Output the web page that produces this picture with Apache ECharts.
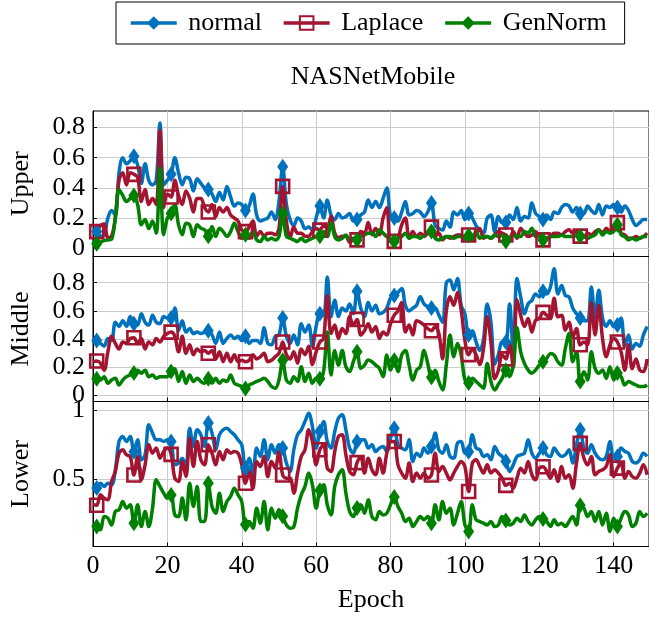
<!DOCTYPE html>
<html><head><meta charset="utf-8">
<script src="https://cdn.jsdelivr.net/npm/echarts@6/dist/echarts.min.js"></script>
<style>html,body{margin:0;padding:0;background:#fff}#c{width:649px;height:619px}</style>
</head><body><div id="c"></div>
<script>
const epochs = [];
for (let i = 0; i < 150; i++) epochs.push(i);
const xTicks = [0, 20, 40, 60, 80, 100, 120, 140];
const upperTicks = [0, 0.2, 0.4, 0.6, 0.8];
const middleTicks = [0, 0.2, 0.4, 0.6, 0.8];
const lowerTicks = [0.5, 1];
const seriesNames = ['normal', 'Laplace', 'GenNorm'];
const panelNames = ['Upper', 'Middle', 'Lower'];

const upperNormal = [
0.12,0.11,0.08,0.09,0.2,0.25,0.22,0.5,0.6,0.56,
0.58,0.61,0.55,0.43,0.56,0.45,0.42,0.45,0.83,0.42,
0.45,0.49,0.6,0.5,0.42,0.47,0.46,0.38,0.46,0.43,
0.4,0.39,0.36,0.31,0.37,0.32,0.41,0.34,0.28,0.3,
0.29,0.25,0.28,0.36,0.22,0.18,0.19,0.2,0.24,0.19,
0.31,0.54,0.29,0.19,0.15,0.2,0.18,0.13,0.14,0.12,
0.2,0.28,0.2,0.32,0.22,0.19,0.23,0.2,0.21,0.23,
0.18,0.19,0.22,0.24,0.32,0.27,0.31,0.27,0.33,0.4,
0.21,0.2,0.18,0.24,0.31,0.22,0.23,0.25,0.24,0.21,
0.24,0.3,0.15,0.13,0.12,0.18,0.14,0.24,0.22,0.25,
0.19,0.23,0.2,0.15,0.12,0.1,0.2,0.22,0.11,0.21,
0.17,0.17,0.22,0.19,0.27,0.18,0.21,0.2,0.3,0.23,
0.21,0.19,0.22,0.19,0.24,0.23,0.27,0.29,0.28,0.24,
0.27,0.23,0.23,0.28,0.25,0.23,0.29,0.22,0.28,0.27,
0.29,0.27,0.24,0.28,0.25,0.19,0.15,0.17,0.19,0.19];
const upperLaplace = [
0.1,0.11,0.15,0.16,0.07,0.08,0.2,0.45,0.5,0.42,
0.5,0.49,0.47,0.31,0.39,0.29,0.33,0.29,0.78,0.27,
0.36,0.34,0.45,0.35,0.29,0.38,0.33,0.24,0.33,0.33,
0.27,0.24,0.29,0.21,0.27,0.24,0.27,0.22,0.2,0.18,
0.12,0.11,0.14,0.18,0.08,0.11,0.08,0.1,0.1,0.09,
0.13,0.41,0.18,0.07,0.14,0.1,0.1,0.08,0.08,0.11,
0.13,0.12,0.15,0.13,0.21,0.1,0.07,0.08,0.08,0.04,
0.055,0.055,0.11,0.1,0.17,0.09,0.13,0.09,0.2,0.27,
0.044,0.045,0.066,0.155,0.2,0.066,0.11,0.077,0.1,0.077,
0.1,0.14,0.077,0.1,0.055,0.077,0.066,0.077,0.088,0.088,
0.066,0.088,0.055,0.1,0.13,0.066,0.077,0.066,0.088,0.11,
0.1,0.088,0.066,0.11,0.066,0.133,0.1,0.077,0.088,0.11,
0.077,0.055,0.066,0.077,0.1,0.1,0.088,0.11,0.122,0.1,
0.11,0.08,0.077,0.1,0.088,0.11,0.122,0.1,0.133,0.11,
0.144,0.17,0.1,0.088,0.066,0.066,0.077,0.066,0.077,0.1];
const upperGenNorm = [
0.05,0.03,0.04,0.05,0.055,0.06,0.2,0.39,0.35,0.31,
0.33,0.35,0.29,0.155,0.19,0.13,0.18,0.1,0.53,0.09,
0.2,0.23,0.29,0.155,0.09,0.166,0.155,0.077,0.155,0.133,
0.122,0.08,0.144,0.077,0.133,0.11,0.077,0.11,0.166,0.11,
0.066,0.09,0.066,0.11,0.055,0.044,0.077,0.055,0.066,0.055,
0.077,0.23,0.077,0.066,0.055,0.044,0.066,0.044,0.055,0.066,
0.077,0.08,0.11,0.077,0.17,0.077,0.055,0.066,0.088,0.055,
0.066,0.055,0.077,0.088,0.1,0.1,0.077,0.122,0.1,0.077,
0.066,0.045,0.066,0.077,0.1,0.066,0.077,0.077,0.066,0.088,
0.1,0.11,0.066,0.055,0.066,0.077,0.077,0.066,0.077,0.077,
0.055,0.085,0.055,0.11,0.066,0.077,0.077,0.066,0.088,0.077,
0.088,0.045,0.066,0.088,0.077,0.077,0.11,0.1,0.133,0.077,
0.088,0.055,0.066,0.077,0.077,0.077,0.088,0.077,0.077,0.077,
0.088,0.08,0.077,0.066,0.077,0.088,0.122,0.088,0.11,0.1,
0.11,0.155,0.088,0.077,0.055,0.066,0.055,0.066,0.077,0.077];

const middleNormal = [
0.38,0.39,0.37,0.35,0.405,0.39,0.52,0.49,0.53,0.49,
0.56,0.51,0.5,0.58,0.52,0.5,0.57,0.52,0.51,0.56,
0.55,0.55,0.62,0.46,0.53,0.45,0.475,0.44,0.45,0.44,
0.45,0.46,0.43,0.37,0.45,0.37,0.405,0.43,0.405,0.42,
0.39,0.42,0.37,0.39,0.39,0.37,0.48,0.37,0.36,0.42,
0.43,0.55,0.42,0.37,0.43,0.36,0.51,0.45,0.5,0.35,
0.49,0.58,0.57,0.84,0.56,0.675,0.56,0.62,0.6,0.65,
0.58,0.74,0.62,0.56,0.66,0.6,0.64,0.58,0.59,0.62,
0.69,0.71,0.73,0.76,0.64,0.6,0.62,0.64,0.7,0.65,
0.63,0.62,0.62,0.57,0.52,0.8,0.82,0.75,0.83,0.64,
0.58,0.43,0.46,0.38,0.32,0.4,0.65,0.52,0.22,0.29,
0.38,0.38,0.65,0.31,0.83,0.7,0.58,0.65,0.675,0.72,
0.7,0.74,0.72,0.77,0.9,0.72,0.78,0.71,0.7,0.62,
0.58,0.55,0.53,0.53,0.77,0.55,0.746,0.55,0.49,0.53,
0.49,0.5,0.55,0.35,0.43,0.33,0.37,0.35,0.43,0.49];
const middleLaplace = [
0.24,0.245,0.23,0.18,0.31,0.42,0.37,0.33,0.38,0.37,
0.405,0.41,0.37,0.405,0.33,0.38,0.36,0.405,0.38,0.42,
0.44,0.45,0.42,0.31,0.42,0.3,0.36,0.29,0.33,0.31,
0.32,0.3,0.32,0.26,0.31,0.24,0.3,0.24,0.29,0.24,
0.25,0.24,0.25,0.29,0.26,0.275,0.3,0.24,0.25,0.275,
0.3,0.38,0.29,0.26,0.31,0.23,0.33,0.29,0.35,0.22,
0.31,0.38,0.405,0.71,0.44,0.5,0.405,0.475,0.44,0.56,
0.5,0.54,0.43,0.46,0.51,0.45,0.49,0.405,0.45,0.43,
0.51,0.57,0.6,0.66,0.45,0.5,0.43,0.53,0.52,0.5,
0.475,0.46,0.49,0.44,0.26,0.6,0.7,0.64,0.73,0.605,
0.39,0.29,0.33,0.29,0.22,0.33,0.56,0.38,0.12,0.18,
0.29,0.26,0.37,0.2,0.68,0.57,0.49,0.546,0.45,0.534,
0.546,0.59,0.57,0.546,0.69,0.558,0.57,0.464,0.52,0.416,
0.475,0.36,0.38,0.36,0.66,0.43,0.64,0.405,0.275,0.36,
0.405,0.38,0.31,0.18,0.36,0.19,0.26,0.18,0.17,0.26];
const middleGenNorm = [
0.134,0.12,0.11,0.134,0.087,0.11,0.122,0.075,0.11,0.134,
0.146,0.16,0.18,0.158,0.18,0.134,0.146,0.122,0.134,0.134,
0.134,0.17,0.19,0.1,0.17,0.087,0.146,0.1,0.122,0.1,
0.087,0.12,0.087,0.122,0.087,0.11,0.1,0.146,0.087,0.075,
0.064,0.05,0.075,0.087,0.1,0.11,0.122,0.1,0.064,0.052,
0.11,0.25,0.11,0.087,0.134,0.1,0.205,0.1,0.158,0.087,
0.122,0.12,0.17,0.45,0.146,0.32,0.216,0.32,0.205,0.17,
0.24,0.31,0.193,0.216,0.252,0.24,0.216,0.193,0.134,0.287,
0.181,0.25,0.17,0.287,0.32,0.216,0.11,0.18,0.205,0.32,
0.228,0.13,0.18,0.1,0.04,0.216,0.43,0.275,0.37,0.287,
0.111,0.09,0.122,0.1,0.075,0.052,0.228,0.1,0.04,0.08,
0.122,0.18,0.134,0.216,0.48,0.31,0.228,0.181,0.158,0.181,
0.216,0.24,0.264,0.299,0.287,0.24,0.216,0.334,0.44,0.24,
0.31,0.1,0.169,0.111,0.31,0.193,0.158,0.181,0.122,0.205,
0.111,0.16,0.134,0.075,0.099,0.087,0.075,0.064,0.064,0.075];

const lowerNormal = [
0.42,0.435,0.47,0.447,0.47,0.459,0.568,0.774,0.811,0.774,
0.811,0.7,0.786,0.641,0.677,0.896,0.835,0.786,0.786,0.774,
0.786,0.774,0.604,0.617,0.653,0.592,0.871,0.738,0.859,0.823,
0.738,0.908,0.835,0.714,0.823,0.859,0.871,0.847,0.823,0.786,
0.75,0.58,0.653,0.532,0.726,0.665,0.786,0.641,0.75,0.689,
0.75,0.726,0.617,0.556,0.714,0.823,0.859,0.92,0.98,0.883,
0.726,0.847,0.92,0.774,0.726,0.847,0.944,0.968,0.859,0.726,
0.689,0.774,0.786,0.786,0.726,0.75,0.701,0.726,0.738,0.701,
0.799,0.871,0.75,0.726,0.714,0.786,0.629,0.689,0.665,0.726,
0.689,0.738,0.835,0.714,0.689,0.75,0.665,0.653,0.762,0.774,
0.689,0.7,0.823,0.726,0.714,0.665,0.677,0.641,0.738,0.689,
0.665,0.63,0.556,0.604,0.665,0.677,0.689,0.786,0.689,0.653,
0.689,0.726,0.677,0.665,0.726,0.689,0.665,0.677,0.714,0.617,
0.75,0.86,0.726,0.689,0.75,0.689,0.653,0.641,0.665,0.774,
0.653,0.665,0.726,0.701,0.689,0.629,0.617,0.641,0.689,0.665];
const lowerLaplace = [
0.313,0.31,0.386,0.362,0.35,0.483,0.556,0.689,0.714,0.677,
0.665,0.53,0.665,0.495,0.604,0.75,0.689,0.726,0.653,0.701,
0.726,0.68,0.507,0.483,0.629,0.519,0.799,0.592,0.774,0.641,
0.604,0.75,0.689,0.604,0.701,0.641,0.714,0.689,0.701,0.689,
0.604,0.47,0.556,0.434,0.629,0.592,0.665,0.519,0.629,0.58,
0.701,0.53,0.507,0.507,0.398,0.544,0.665,0.714,0.859,0.774,
0.604,0.714,0.75,0.58,0.556,0.701,0.811,0.823,0.677,0.556,
0.532,0.62,0.665,0.544,0.653,0.568,0.532,0.653,0.544,0.689,
0.774,0.774,0.604,0.544,0.507,0.617,0.483,0.544,0.507,0.544,
0.507,0.53,0.689,0.556,0.592,0.544,0.495,0.544,0.592,0.629,
0.592,0.41,0.617,0.641,0.592,0.544,0.604,0.544,0.568,0.544,
0.507,0.455,0.471,0.434,0.507,0.58,0.544,0.629,0.532,0.495,
0.58,0.59,0.556,0.507,0.568,0.483,0.592,0.507,0.532,0.434,
0.617,0.76,0.653,0.604,0.665,0.532,0.556,0.568,0.592,0.677,
0.519,0.58,0.617,0.507,0.556,0.519,0.507,0.544,0.604,0.532];
const lowerGenNorm = [
0.167,0.155,0.131,0.228,0.216,0.167,0.265,0.277,0.337,0.289,
0.313,0.18,0.313,0.155,0.265,0.155,0.289,0.495,0.447,0.398,
0.362,0.385,0.24,0.228,0.362,0.204,0.471,0.301,0.447,0.192,
0.192,0.47,0.301,0.252,0.398,0.265,0.337,0.374,0.434,0.386,
0.337,0.17,0.192,0.143,0.289,0.18,0.337,0.131,0.289,0.216,
0.277,0.23,0.167,0.143,0.155,0.289,0.386,0.447,0.544,0.459,
0.289,0.42,0.459,0.313,0.24,0.447,0.532,0.568,0.398,0.265,
0.228,0.29,0.313,0.252,0.35,0.228,0.204,0.265,0.24,0.252,
0.313,0.37,0.301,0.252,0.192,0.216,0.155,0.192,0.228,0.204,
0.228,0.18,0.313,0.204,0.337,0.252,0.289,0.167,0.252,0.337,
0.167,0.12,0.313,0.204,0.192,0.18,0.167,0.192,0.155,0.167,
0.228,0.2,0.167,0.18,0.216,0.192,0.24,0.192,0.167,0.204,
0.228,0.21,0.192,0.155,0.204,0.167,0.18,0.155,0.192,0.228,
0.167,0.31,0.289,0.228,0.265,0.192,0.265,0.167,0.252,0.119,
0.216,0.155,0.216,0.265,0.24,0.155,0.18,0.265,0.228,0.252];

const FONT = 'Liberation Serif';
const FS = 26;
const COLORS = ['#0072BD', '#A2142F', '#008000'];
const panels = [
  {name: panelNames[0], ticks: upperTicks, min: -0.055, max: 0.91, top: 111, height: 145.5, data: [upperNormal, upperLaplace, upperGenNorm]},
  {name: panelNames[1], ticks: middleTicks, min: -0.042, max: 0.986, top: 256.5, height: 145, data: [middleNormal, middleLaplace, middleGenNorm]},
  {name: panelNames[2], ticks: lowerTicks, min: 0.01, max: 1.065, top: 401.5, height: 145, data: [lowerNormal, lowerLaplace, lowerGenNorm]}
];

const grids = [], xAxes = [], yAxes = [], series = [];
panels.forEach((p, gi) => {
  grids.push({left: 92, right: -3, top: p.top, height: p.height, show: true, borderColor: '#000', borderWidth: 1, backgroundColor: 'transparent'});
  xAxes.push({
    type: 'value', gridIndex: gi, min: 0, max: 149.5,
    axisLine: {show: true, onZero: false, lineStyle: {color: '#000', width: 1}},
    axisTick: {show: true, inside: true, length: 4, customValues: xTicks, lineStyle: {color: '#000'}},
    axisLabel: {show: gi === 2, customValues: xTicks, fontFamily: FONT, fontSize: FS, color: '#000', margin: 7},
    splitLine: {show: true, lineStyle: {color: '#cccccc', width: 1}},
    name: gi === 2 ? 'Epoch' : '', nameLocation: 'middle', nameGap: 41,
    nameTextStyle: {fontFamily: FONT, fontSize: FS, color: '#000'}
  });
  yAxes.push({
    type: 'value', gridIndex: gi, min: p.min, max: p.max, splitNumber: gi === 2 ? 2 : 5,
    axisLine: {show: true, onZero: false, lineStyle: {color: '#000', width: 1}},
    axisTick: {show: true, inside: true, length: 4, customValues: p.ticks, lineStyle: {color: '#000'}},
    axisLabel: {customValues: p.ticks, fontFamily: FONT, fontSize: FS, color: '#000', margin: 8},
    splitLine: {show: true, lineStyle: {color: '#cccccc', width: 1}},
    name: p.name, nameLocation: 'middle', nameGap: 59, nameRotate: 90,
    nameTextStyle: {fontFamily: FONT, fontSize: FS, color: '#000'}
  });
  p.data.forEach((vals, si) => {
    const pts = vals.map((v, i) => (i % 10 === 1) ? {value: [epochs[i], v]} : {value: [epochs[i], v], symbol: 'none'});
    const s = {
      name: seriesNames[si], type: 'line', xAxisIndex: gi, yAxisIndex: gi,
      data: pts, smooth: 0.35, showAllSymbol: true, animation: false,
      color: COLORS[si],
      lineStyle: {color: COLORS[si], width: 3.5},
      emphasis: {disabled: true}
    };
    if (si === 1) {
      s.symbol = 'rect'; s.symbolSize = 13;
      s.itemStyle = {color: 'rgba(255,255,255,0)', borderColor: COLORS[si], borderWidth: 2.6};
    } else {
      s.symbol = 'diamond'; s.symbolSize = [11, 16];
      s.itemStyle = {color: COLORS[si], borderWidth: 0};
    }
    series.push(s);
  });
});

const chart = echarts.init(document.getElementById('c'), null, {renderer: 'canvas'});
chart.setOption({
  animation: false,
  backgroundColor: '#fff',
  legend: {
    data: seriesNames, left: 116, top: 2, orient: 'horizontal',
    itemWidth: 46, itemHeight: 17, itemGap: 20,
    formatter: ' {name}',
    lineStyle: {width: 3.5},
    padding: [8, 18, 8, 13], borderColor: '#000', borderWidth: 1, borderRadius: 0,
    textStyle: {fontFamily: FONT, fontSize: FS, color: '#000'}
  },
  graphic: [{type: 'text', style: {text: 'NASNetMobile', x: 373, y: 77, textAlign: 'center', textVerticalAlign: 'middle', fontFamily: FONT, fontSize: FS, fill: '#000'}}],
  grid: grids, xAxis: xAxes, yAxis: yAxes, series: series
});
</script></body></html>
